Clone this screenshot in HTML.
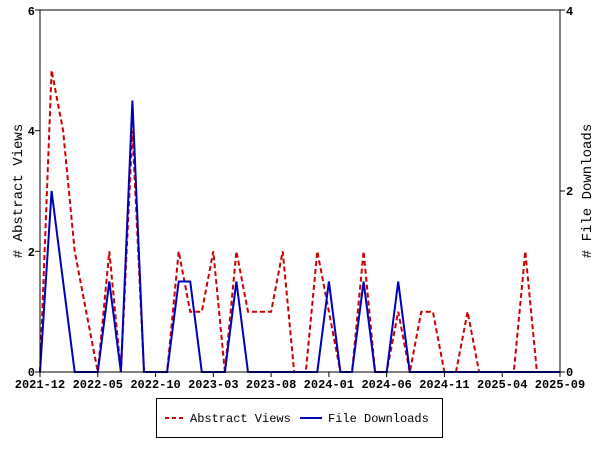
<!DOCTYPE html>
<html><head><meta charset="utf-8"><style>
body{margin:0;background:#fff;}
svg text{font-family:"Liberation Mono",monospace;font-weight:bold;font-size:12px;}
</style></head><body>
<svg id="s" width="600" height="450" xmlns="http://www.w3.org/2000/svg">
<rect width="600" height="450" fill="#fff"/>
<g id="plot"></g>
<line x1="40" y1="10" x2="40" y2="372" stroke="#000"/>
<line x1="560" y1="10" x2="560" y2="372" stroke="#000"/>
<line x1="40" y1="10" x2="560" y2="10" stroke="#000"/>
<line x1="40" y1="372" x2="560" y2="372" stroke="#000"/>
<g stroke="#000">
<line x1="35" y1="10" x2="40" y2="10"/><line x1="35" y1="130.7" x2="40" y2="130.7"/><line x1="35" y1="251.3" x2="40" y2="251.3"/><line x1="35" y1="372" x2="40" y2="372"/>
<line x1="560" y1="10" x2="565" y2="10"/><line x1="560" y1="191" x2="565" y2="191"/><line x1="560" y1="372" x2="565" y2="372"/>
</g>
<g text-anchor="end">
<text x="35" y="15">6</text><text x="35" y="135">4</text><text x="35" y="256">2</text><text x="35" y="376">0</text>
</g>
<g>
<text x="566" y="15">4</text><text x="566" y="195">2</text><text x="566" y="376">0</text>
</g>
<g id="xt" text-anchor="middle"></g>
<text transform="translate(22,191) rotate(-90)" text-anchor="middle" style="font-size:14px;font-weight:normal"># Abstract Views</text>
<text transform="translate(591,191) rotate(-90)" text-anchor="middle" style="font-size:14px;font-weight:normal"># File Downloads</text>
<rect x="156.5" y="398.5" width="286" height="39" fill="#fff" stroke="#000"/>
<line x1="165" y1="418" x2="185" y2="418" stroke="#cc0000" stroke-width="2" stroke-dasharray="4,3"/>
<text x="190" y="422" style="font-weight:normal">Abstract Views</text>
<line x1="300" y1="418" x2="322" y2="418" stroke="#0000bb" stroke-width="2"/>
<text x="328" y="422" style="font-weight:normal">File Downloads</text>
</svg>
<script>
var red=[0,5,4,2,1,0,2,0,4,0,0,0,2,1,1,2,0,2,1,1,1,2,0,0,2,1,0,0,2,0,0,1,0,1,1,0,0,1,0,0,0,0,2,0,0,0];
var blue=[0,2,1,0,0,0,1,0,3,0,0,0,1,1,0,0,0,1,0,0,0,0,0,0,0,1,0,0,1,0,0,1,0,0,0,0,0,0,0,0,0,0,0,0,0,0];
function X(i){return 40+i*520/45;}
var rp=red.map(function(v,i){return X(i).toFixed(1)+","+(372-v*362/6).toFixed(1)}).join(" ");
var bp=blue.map(function(v,i){return X(i).toFixed(1)+","+(372-v*362/4).toFixed(1)}).join(" ");
var ns="http://www.w3.org/2000/svg";
var g=document.getElementById("plot");
var p1=document.createElementNS(ns,"polyline");p1.setAttribute("points",rp);p1.setAttribute("fill","none");p1.setAttribute("stroke","#cc0000");p1.setAttribute("stroke-width","2");p1.setAttribute("stroke-dasharray","5,3");g.appendChild(p1);
var p2=document.createElementNS(ns,"polyline");p2.setAttribute("points",bp);p2.setAttribute("fill","none");p2.setAttribute("stroke","#0000bb");p2.setAttribute("stroke-width","2");g.appendChild(p2);
var labs=["2021-12","2022-05","2022-10","2023-03","2023-08","2024-01","2024-06","2024-11","2025-04","2025-09"];
var xt=document.getElementById("xt");
labs.forEach(function(l,k){var x=X(k*5);
var ln=document.createElementNS(ns,"line");ln.setAttribute("x1",x);ln.setAttribute("x2",x);ln.setAttribute("y1",372);ln.setAttribute("y2",377);ln.setAttribute("stroke","#000");xt.appendChild(ln);
var t=document.createElementNS(ns,"text");t.setAttribute("x",x);t.setAttribute("y",388);t.textContent=l;xt.appendChild(t);});
</script>
</body></html>
